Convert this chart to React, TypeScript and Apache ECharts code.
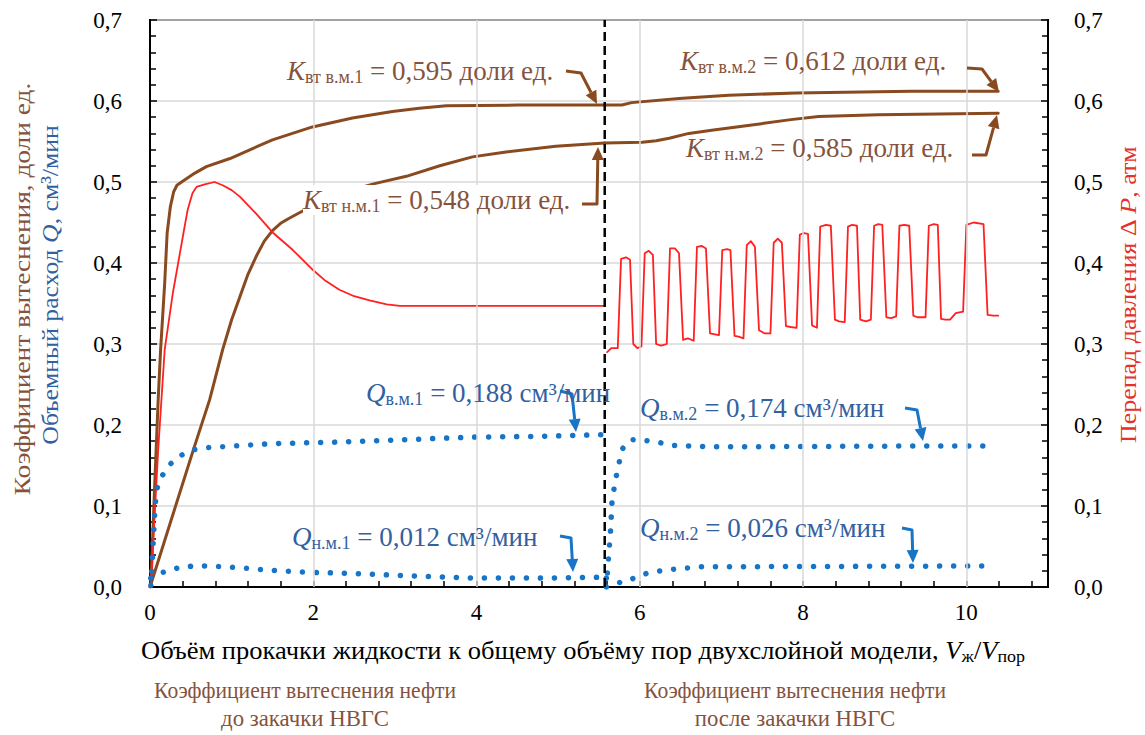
import React, { useEffect, useRef } from "react";
import * as echarts from "echarts";

// ---------- data ----------
const boundaryX = 5.57;

// Displacement coefficient, high-permeability layer (в.м.)
const kVm1: number[][] = [
  [0.01, 0.0], [0.06, 0.132], [0.1, 0.231], [0.13, 0.293], [0.18, 0.375], [0.21, 0.437],
  [0.25, 0.47], [0.29, 0.488], [0.33, 0.496], [0.4, 0.501], [0.55, 0.511], [0.69, 0.519],
  [0.98, 0.529], [1.25, 0.541], [1.5, 0.552], [1.99, 0.568], [2.48, 0.579], [2.97, 0.587],
  [3.3, 0.591], [3.63, 0.594], [4.5, 0.595], [5.57, 0.595],
];
const kVm2: number[][] = [
  [5.57, 0.595], [5.78, 0.595], [5.9, 0.598], [6.48, 0.603], [7.09, 0.607], [7.91, 0.61],
  [9.33, 0.612], [10.39, 0.612],
];
// Displacement coefficient, low-permeability layer (н.м.)
const kNm1: number[][] = [
  [0.0, 0.0], [0.53, 0.169], [0.73, 0.231], [0.89, 0.293], [1.0, 0.33], [1.1, 0.358],
  [1.2, 0.386], [1.3, 0.408], [1.4, 0.427], [1.5, 0.44], [1.6, 0.449], [1.7, 0.455],
  [1.83, 0.462], [2.1, 0.476], [2.4, 0.488], [2.75, 0.498], [3.14, 0.507], [3.55, 0.52],
  [3.95, 0.531], [4.36, 0.537], [4.97, 0.544], [5.57, 0.548],
];
const kNm2: number[][] = [
  [5.57, 0.548], [6.03, 0.549], [6.2, 0.551], [6.36, 0.554], [6.6, 0.56], [6.88, 0.564],
  [7.49, 0.572], [7.85, 0.577], [8.19, 0.581], [8.92, 0.583], [10.39, 0.585],
];
// Pressure drop ΔP
const dp1: number[][] = [
  [0.01, 0.0], [0.1, 0.169], [0.18, 0.293], [0.28, 0.363], [0.41, 0.437], [0.46, 0.465],
  [0.52, 0.486], [0.57, 0.494], [0.67, 0.497], [0.79, 0.5], [0.89, 0.496], [1.0, 0.49],
  [1.1, 0.482], [1.3, 0.461], [1.51, 0.437], [1.75, 0.416], [2.0, 0.391], [2.15, 0.378],
  [2.32, 0.367], [2.5, 0.359], [2.69, 0.354], [2.9, 0.349], [3.06, 0.347], [4.28, 0.347],
  [5.56, 0.347],
];
const dp2: number[][] = [
  [5.6, 0.29], [5.65, 0.295], [5.73, 0.295], [5.77, 0.405], [5.83, 0.407], [5.88, 0.404],
  [5.92, 0.3], [5.97, 0.295], [6.02, 0.297], [6.06, 0.412], [6.11, 0.415], [6.16, 0.41],
  [6.2, 0.3], [6.26, 0.298], [6.33, 0.3], [6.37, 0.418], [6.43, 0.418], [6.48, 0.412],
  [6.53, 0.305], [6.59, 0.307], [6.66, 0.304], [6.7, 0.42], [6.76, 0.421], [6.81, 0.418],
  [6.86, 0.313], [6.92, 0.312], [6.97, 0.311], [7.01, 0.416], [7.07, 0.417], [7.11, 0.416],
  [7.16, 0.31], [7.21, 0.309], [7.27, 0.307], [7.31, 0.422], [7.36, 0.427], [7.41, 0.42],
  [7.46, 0.317], [7.53, 0.313], [7.6, 0.313], [7.64, 0.425], [7.69, 0.43], [7.74, 0.425],
  [7.79, 0.322], [7.85, 0.321], [7.92, 0.32], [7.96, 0.435], [8.01, 0.437], [8.06, 0.436],
  [8.11, 0.323], [8.17, 0.32], [8.21, 0.445], [8.28, 0.447], [8.34, 0.446], [8.39, 0.33],
  [8.44, 0.328], [8.51, 0.327], [8.55, 0.445], [8.6, 0.447], [8.66, 0.446], [8.7, 0.33],
  [8.77, 0.328], [8.83, 0.33], [8.87, 0.446], [8.92, 0.448], [8.97, 0.447], [9.02, 0.333],
  [9.08, 0.332], [9.14, 0.334], [9.18, 0.446], [9.24, 0.447], [9.3, 0.446], [9.35, 0.335],
  [9.4, 0.333], [9.5, 0.333], [9.54, 0.446], [9.6, 0.448], [9.65, 0.447], [9.69, 0.331],
  [9.74, 0.33], [9.8, 0.33], [9.87, 0.338], [9.96, 0.34], [10.0, 0.447], [10.09, 0.45],
  [10.21, 0.448], [10.26, 0.336], [10.33, 0.335], [10.39, 0.335],
];
// Volumetric flow rate Q
const qVm1: number[][] = [
  [0.01, 0.002], [0.02, 0.017], [0.04, 0.058], [0.06, 0.095], [0.08, 0.12], [0.14, 0.136],
  [0.24, 0.151], [0.37, 0.162], [0.51, 0.169], [0.69, 0.172], [1.01, 0.174], [1.5, 0.177],
  [2.32, 0.179], [3.14, 0.182], [3.95, 0.185], [4.77, 0.186], [5.54, 0.188],
];
const qVm2: number[][] = [
  [5.59, 0.0], [5.64, 0.067], [5.66, 0.107], [5.71, 0.136], [5.75, 0.155], [5.79, 0.171],
  [5.89, 0.182], [6.05, 0.181], [6.21, 0.179], [6.38, 0.175], [6.88, 0.173], [9.33, 0.174],
  [10.35, 0.174],
];
const qNm1: number[][] = [
  [0.01, 0.011], [0.06, 0.015], [0.22, 0.02], [0.39, 0.025], [0.57, 0.026], [0.73, 0.026],
  [1.06, 0.024], [1.43, 0.021], [1.93, 0.018], [2.44, 0.017], [3.12, 0.014], [3.99, 0.011],
  [4.77, 0.011], [5.54, 0.012],
];
const qNm2: number[][] = [
  [5.59, 0.011], [5.77, 0.005], [5.93, 0.011], [6.09, 0.017], [6.26, 0.02], [6.42, 0.022],
  [6.74, 0.025], [7.09, 0.025], [10.35, 0.026],
];

const xGridLines = [2, 4, 6, 8, 10];

// Annotation texts
const kLabels = [
  { sub: "вт в.м.1", val: "0,595" },
  { sub: "вт н.м.1", val: "0,548" },
  { sub: "вт в.м.2", val: "0,612" },
  { sub: "вт н.м.2", val: "0,585" },
];
const qLabels = [
  { sub: "в.м.1", val: "0,188" },
  { sub: "н.м.1", val: "0,012" },
  { sub: "в.м.2", val: "0,174" },
  { sub: "н.м.2", val: "0,026" },
];

// ---------- styles ----------
const FONT = "Liberation Serif";
const BROWN = "#8a4a1f";
const BROWN_TEXT = "#85533d";
const BLUE = "#1874c6";
const BLUE_TEXT = "#33609f";
const RED = "#ff2020";
const RED_TEXT = "#e5302c";

function arrow(points: number[][], color: string): any[] {
  const n = points.length;
  const [x1, y1] = points[n - 2];
  const [x2, y2] = points[n - 1];
  const ang = Math.atan2(y2 - y1, x2 - x1);
  const L = 13;
  const W = 6;
  const bx = x2 - L * Math.cos(ang);
  const by = y2 - L * Math.sin(ang);
  const left = [bx + W * Math.sin(ang), by - W * Math.cos(ang)];
  const right = [bx - W * Math.sin(ang), by + W * Math.cos(ang)];
  return [
    {
      type: "polyline",
      z: 100,
      shape: { points: [...points.slice(0, n - 1), [bx, by]] },
      style: { stroke: color, lineWidth: 3, fill: "none", lineJoin: "round" },
    },
    {
      type: "polygon",
      z: 100,
      shape: { points: [[x2, y2], left, right] },
      style: { fill: color },
    },
  ];
}

function kText(i: number, x: number, y: number, bg: boolean): any {
  const l = kLabels[i];
  return {
    type: "text",
    z: 101,
    x,
    y,
    style: {
      text: `{k|K}{s|${l.sub}}{t| = ${l.val} доли ед.}`,
      fill: BROWN_TEXT,
      align: "left",
      verticalAlign: "middle",
      backgroundColor: bg ? "#fff" : undefined,
      rich: {
        k: { fontFamily: FONT, fontSize: 27, fontStyle: "italic", fill: BROWN_TEXT, lineHeight: 30 },
        s: { fontFamily: FONT, fontSize: 18, fill: BROWN_TEXT, verticalAlign: "bottom", lineHeight: 30, padding: [10, 0, 0, 0] },
        t: { fontFamily: FONT, fontSize: 27, fill: BROWN_TEXT, lineHeight: 30 },
      },
    },
  };
}

function qText(i: number, x: number, y: number): any {
  const l = qLabels[i];
  return {
    type: "text",
    z: 101,
    x,
    y,
    style: {
      text: `{k|Q}{s|${l.sub}}{t| = ${l.val} см³/мин}`,
      fill: BLUE_TEXT,
      align: "left",
      verticalAlign: "middle",
      rich: {
        k: { fontFamily: FONT, fontSize: 27, fontStyle: "italic", fill: BLUE_TEXT, lineHeight: 30 },
        s: { fontFamily: FONT, fontSize: 18, fill: BLUE_TEXT, verticalAlign: "bottom", lineHeight: 30, padding: [10, 0, 0, 0] },
        t: { fontFamily: FONT, fontSize: 27, fill: BLUE_TEXT, lineHeight: 30 },
      },
    },
  };
}

function plainText(text: string, x: number, y: number, color: string, size: number, extra: any = {}): any {
  return {
    type: "text",
    z: 101,
    x,
    y,
    ...extra,
    style: {
      text,
      fill: color,
      fontFamily: FONT,
      fontSize: size,
      align: "center",
      verticalAlign: "middle",
    },
  };
}

const lineSeries = (name: string, data: number[][], color: string, width: number, yAxisIndex = 0): any => ({
  name,
  type: "line",
  data,
  yAxisIndex,
  showSymbol: false,
  symbol: "none",
  smooth: false,
  lineStyle: { color, width, join: "round", cap: "round" },
  z: 3,
});

const dotSeries = (name: string, data: number[][]): any => ({
  name,
  type: "line",
  data,
  showSymbol: false,
  symbol: "none",
  smooth: false,
  lineStyle: { color: BLUE, width: 5.5, type: [0.01, 14], cap: "round" },
  z: 4,
});

export default function App() {
  const ref = useRef<HTMLDivElement>(null);

  useEffect(() => {
    if (!ref.current) return;
    const chart = echarts.init(ref.current, null, { renderer: "svg" });

    const yFmt = (v: number) => v.toFixed(1).replace(".", ",");
    const yAxisBase = (position: "left" | "right", split: boolean): any => ({
      type: "value",
      position,
      min: 0,
      max: 0.7,
      interval: 0.1,
      axisLine: { show: true, lineStyle: { color: "#000", width: 2 } },
      axisTick: { show: true, inside: true, length: 7, lineStyle: { color: "#000", width: 1.5 } },
      minorTick: { show: true, splitNumber: 5, length: 6, lineStyle: { color: "#000", width: 1.5 } },
      axisLabel: {
        formatter: yFmt,
        fontFamily: FONT,
        fontSize: 23,
        color: "#000",
        margin: position === "left" ? 28 : 26,
      },
      splitLine: { show: split, lineStyle: { color: "#d9d9d9", width: 1.5 } },
      minorSplitLine: { show: false },
    });

    const graphic: any[] = [
      // K labels
      kText(0, 287, 71, false),
      kText(1, 303, 200, true),
      kText(2, 680, 61, false),
      kText(3, 686, 148, false),
      ...arrow([[566, 71], [581, 73], [597, 104]], BROWN),
      ...arrow([[582, 204], [597, 204], [598, 147]], BROWN),
      ...arrow([[967, 68], [982, 69], [999, 92]], BROWN),
      ...arrow([[972, 155], [986, 155], [997, 115]], BROWN),
      // Q labels
      qText(0, 366, 393),
      qText(1, 292, 537),
      qText(2, 640, 408),
      qText(3, 640, 528),
      ...arrow([[560, 391], [572, 394], [576, 432]], BLUE),
      ...arrow([[560, 536], [571, 538], [573, 572]], BLUE),
      ...arrow([[905, 408], [917, 410], [923, 441]], BLUE),
      ...arrow([[902, 528], [912, 530], [913, 563]], BLUE),
      // axis titles
      plainText("Коэффициент вытеснения, доли ед.", 22, 289, BROWN_TEXT, 24, { rotation: Math.PI / 2, scaleX: 1.14 }),
      {
        type: "text",
        z: 101,
        x: 50,
        y: 285,
        rotation: Math.PI / 2,
        scaleX: 1.07,
        style: {
          text: "{t|Объемный расход }{i|Q}{t|, см³/мин}",
          fill: BLUE_TEXT,
          align: "center",
          verticalAlign: "middle",
          rich: {
            t: { fontFamily: FONT, fontSize: 24, fill: BLUE_TEXT },
            i: { fontFamily: FONT, fontSize: 24, fill: BLUE_TEXT, fontStyle: "italic" },
          },
        },
      },
      {
        type: "text",
        z: 101,
        x: 1128,
        y: 295,
        rotation: Math.PI / 2,
        scaleX: 1.08,
        style: {
          text: "{t|Перепад давления Δ }{i|P}{t|, атм}",
          fill: RED_TEXT,
          align: "center",
          verticalAlign: "middle",
          rich: {
            t: { fontFamily: FONT, fontSize: 24, fill: RED_TEXT },
            i: { fontFamily: FONT, fontSize: 24, fill: RED_TEXT, fontStyle: "italic" },
          },
        },
      },
      {
        type: "text",
        z: 101,
        x: 583,
        y: 651,
        scaleX: 1.06,
        style: {
          text: "{t|Объём прокачки жидкости к общему объёму пор двухслойной модели, }{i|V}{s|ж}{t|/}{i|V}{s|пор}",
          fill: "#000",
          align: "center",
          verticalAlign: "middle",
          rich: {
            t: { fontFamily: FONT, fontSize: 25, fill: "#000", lineHeight: 28 },
            i: { fontFamily: FONT, fontSize: 25, fill: "#000", fontStyle: "italic", lineHeight: 28 },
            s: { fontFamily: FONT, fontSize: 17, fill: "#000", verticalAlign: "bottom", lineHeight: 28, padding: [8, 0, 0, 0] },
          },
        },
      },
      plainText("Коэффициент вытеснения нефти", 305, 690, BROWN_TEXT, 24, { scaleX: 0.9 }),
      plainText("до закачки НВГС", 305, 718, BROWN_TEXT, 24, { scaleX: 0.95 }),
      plainText("Коэффициент вытеснения нефти", 795, 690, BROWN_TEXT, 24, { scaleX: 0.9 }),
      plainText("после закачки НВГС", 795, 718, BROWN_TEXT, 24, { scaleX: 0.95 }),
    ];

    const option: any = {
      animation: false,
      backgroundColor: "#fff",
      grid: {
        left: 150,
        right: 97,
        top: 20,
        bottom: 148,
        show: true,
        borderColor: "#000",
        borderWidth: 2,
        backgroundColor: "transparent",
      },
      xAxis: {
        type: "value",
        min: 0,
        max: 11,
        interval: 0.4,
        axisLine: { show: true, onZero: false, lineStyle: { color: "#000", width: 2 } },
        axisTick: { show: true, inside: true, length: 6, lineStyle: { color: "#000", width: 1.5 } },
        axisLabel: {
          fontFamily: FONT,
          fontSize: 23,
          color: "#000",
          margin: 14,
          formatter: (v: number) => {
            const h = v / 2;
            return Math.abs(h - Math.round(h)) < 1e-6 ? String(Math.round(v)) : "";
          },
        },
        splitLine: { show: false },
      },
      yAxis: [yAxisBase("left", true), yAxisBase("right", false)],
      graphic,
      series: [
        {
          name: "grid",
          type: "line",
          data: [],
          markLine: {
            silent: true,
            symbol: "none",
            label: { show: false },
            lineStyle: { color: "#d9d9d9", width: 1.5, type: "solid" },
            data: xGridLines.map((x) => ({ xAxis: x })),
          },
          z: 1,
        },
        lineSeries("Kвм1", kVm1, BROWN, 3),
        lineSeries("Kвм2", kVm2, BROWN, 3),
        lineSeries("Kнм1", kNm1, BROWN, 3),
        lineSeries("Kнм2", kNm2, BROWN, 3),
        lineSeries("ΔP1", dp1, RED, 1.8, 1),
        lineSeries("ΔP2", dp2, RED, 1.8, 1),
        dotSeries("Qвм1", qVm1),
        dotSeries("Qвм2", qVm2),
        dotSeries("Qнм1", qNm1),
        dotSeries("Qнм2", qNm2),
        {
          name: "boundary",
          type: "line",
          data: [
            [boundaryX, 0],
            [boundaryX, 0.7],
          ],
          showSymbol: false,
          symbol: "none",
          lineStyle: { color: "#000", width: 2.5, type: [9, 5] },
          z: 6,
        },
      ],
    };

    chart.setOption(option);
    return () => chart.dispose();
  }, []);

  return (
    <div
      ref={ref}
      style={{ position: "fixed", left: 0, top: 0, width: 1145, height: 735, background: "#fff" }}
    />
  );
}
